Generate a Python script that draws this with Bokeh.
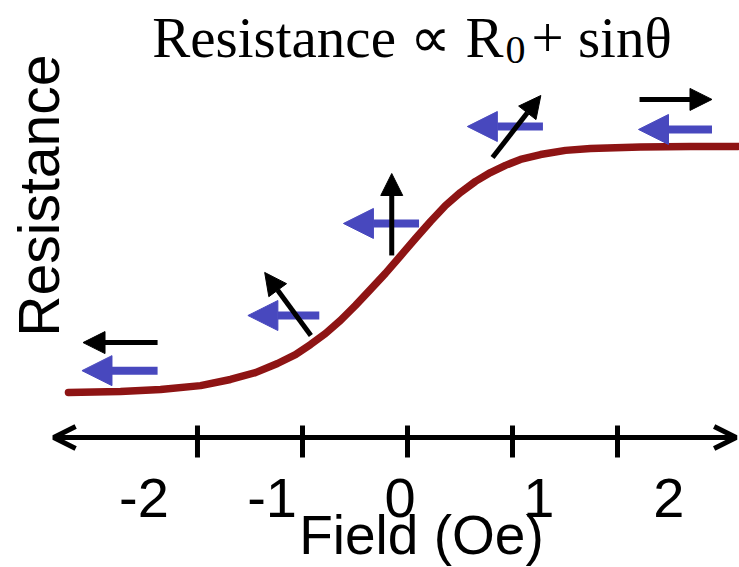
import math
from bokeh.plotting import figure
from bokeh.models import Arrow, NormalHead, OpenHead, ColumnDataSource
from bokeh.core.properties import value
from bokeh.embed import file_html
from bokeh.resources import INLINE

# ---- data ----
field = [-3.229, -2.733, -2.352, -1.971, -1.686, -1.448, -1.238, -1.067, -0.924, -0.781,
         -0.638, -0.495, -0.352, -0.210, -0.067, 0.076, 0.219, 0.362, 0.505, 0.648,
         0.790, 0.933, 1.076, 1.267, 1.505, 1.743, 2.219, 2.695, 3.143]
resistance = [0.000, 0.004, 0.012, 0.028, 0.053, 0.081, 0.118, 0.154, 0.195, 0.240,
              0.293, 0.354, 0.419, 0.484, 0.555, 0.626, 0.695, 0.760, 0.813, 0.858,
              0.894, 0.923, 0.947, 0.967, 0.984, 0.992, 0.998, 1.000, 1.000]

tick_values = [-2, -1, 0, 1, 2]
tick_labels = ["-2", "-1", "0", "1", "2"]
tick_label_x = [-2.51, -1.29, -0.07, 1.25, 2.49]

# magnetisation (black) arrows: tail -> tip
mag_x0 = [-2.38, -0.92, -0.15, 0.81, 2.21]
mag_y0 = [0.203, 0.232, 0.557, 0.955, 1.191]
mag_x1 = [-3.09, -1.36, -0.15, 1.27, 2.90]
mag_y1 = [0.203, 0.488, 0.890, 1.207, 1.191]

# applied field (blue) arrows: tail -> tip
fld_x0 = [-2.38, -0.84, 0.11, 1.29, 2.90]
fld_x1 = [-3.10, -1.52, -0.61, 0.57, 2.20]
fld_y = [0.089, 0.313, 0.687, 1.081, 1.069]

RED = "#8e1414"
BLUE = "#4848be"

p = figure(width=739, height=567, x_range=(-3.876, 3.162), y_range=(-0.711, 1.593),
           output_backend="svg", toolbar_location=None, min_border=0)
p.axis.visible = False
p.grid.visible = False
p.outline_line_color = None
p.background_fill_color = "white"

# curve
p.line(field, resistance, line_color=RED, line_width=7.5, line_cap="round", line_join="round")

# field arrows (blue)
src_b = ColumnDataSource(dict(x0=fld_x0, y0=fld_y, x1=fld_x1, y1=fld_y))
p.add_layout(Arrow(end=NormalHead(size=30, fill_color=BLUE, line_color=BLUE, line_width=1),
                   x_start="x0", y_start="y0", x_end="x1", y_end="y1", source=src_b,
                   line_color=BLUE, line_width=8))

# magnetisation arrows (black)
src_k = ColumnDataSource(dict(x0=mag_x0, y0=mag_y0, x1=mag_x1, y1=mag_y1))
p.add_layout(Arrow(end=NormalHead(size=22, fill_color="black", line_color="black", line_width=1),
                   x_start="x0", y_start="y0", x_end="x1", y_end="y1", source=src_k,
                   line_color="black", line_width=5))

# field axis with arrowheads on both ends
AXIS_Y = -0.183
p.add_layout(Arrow(start=OpenHead(size=22, line_width=5, line_color="black"),
                   end=OpenHead(size=22, line_width=5, line_color="black"),
                   x_start=-3.37, y_start=AXIS_Y, x_end=3.13, y_end=AXIS_Y,
                   line_color="black", line_width=5))
p.segment(x0=tick_values, y0=[-0.134] * 5, x1=tick_values, y1=[-0.264] * 5,
          line_color="black", line_width=5)

SANS = value("Liberation Sans")
SERIF = value("Liberation Serif")

p.text(x=tick_label_x, y=[-0.427] * 5, text=tick_labels, text_align="center",
       text_baseline="alphabetic", text_font=SANS, text_font_size=value("56px"),
       text_color="black")

p.text(x=[0.133], y=[-0.580], text=["Field (Oe)"], text_align="center",
       text_baseline="alphabetic", text_font=SANS, text_font_size=value("55px"),
       text_color="black")

p.text(x=[-3.505], y=[0.80], text=["Resistance"], angle=math.pi / 2,
       text_align="center", text_baseline="alphabetic", text_font=SANS,
       text_font_size=value("57px"), text_color="black")

# title: Resistance ∝ R0 + sinθ
p.text(x=[0.914], y=[1.443], text=["Resistance \u221d R"], text_align="right",
       text_baseline="alphabetic", text_font=SERIF, text_font_size=value("57px"),
       text_color="black")
p.text(x=[0.933], y=[1.392], text=["0"], text_align="left",
       text_baseline="alphabetic", text_font=SERIF, text_font_size=value("40px"),
       text_color="black")
p.text(x=[1.181], y=[1.443], text=["+ sin\u03b8"], text_align="left",
       text_baseline="alphabetic", text_font=SERIF, text_font_size=value("57px"),
       text_color="black")

open("out.html", "w").write(file_html(p, INLINE))
